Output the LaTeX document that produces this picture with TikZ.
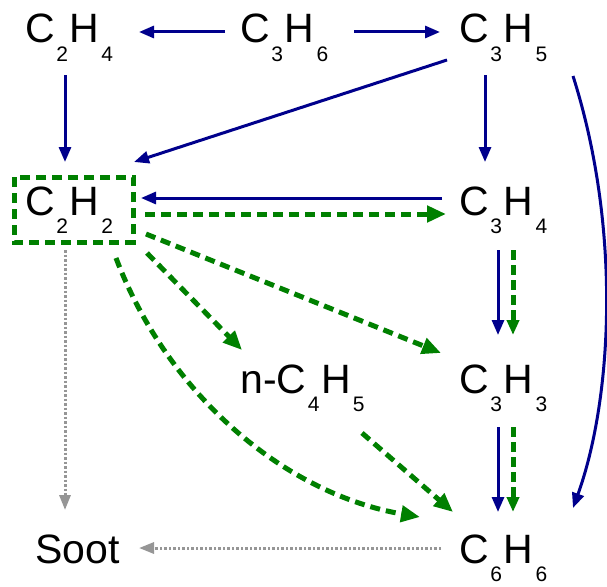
\documentclass[tikz,border=0pt]{standalone}
\usepackage{fontspec}
\setmainfont{Liberation Sans}
\usetikzlibrary{arrows.meta,calc}
\definecolor{myblue}{RGB}{0,0,140}
\definecolor{mygreen}{RGB}{0,128,0}
\definecolor{mygray}{RGB}{150,150,150}
\newcommand{\subf}[1]{\raisebox{-18pt}{\fontsize{21pt}{21pt}\selectfont #1}}
\newcommand{\mol}[2]{C\kern1.6pt\subf{#1}\kern1.8pt H\kern2pt\subf{#2}}
\begin{document}
\begin{tikzpicture}[x=1pt,y=-1pt,
  lbl/.style={anchor=base west, inner sep=0pt, font=\fontsize{41pt}{41pt}\selectfont},
  bluearr/.style={draw=myblue, line width=3pt, -{Triangle[length=15pt,width=12pt]}},
  greenarr/.style={draw=mygreen, line width=5pt, dash pattern=on 10pt off 6pt, -{Triangle[length=19pt,width=16pt]}},
  greenvert/.style={draw=mygreen, line width=5pt, dash pattern=on 10pt off 5pt, -{Triangle[length=15pt,width=12pt]}},
  grayarr/.style={draw=mygray, line width=3pt, dash pattern=on 2.5pt off 2pt, -{Triangle[length=15pt,width=11pt]}},
  greenbox/.style={draw=mygreen, line width=5pt, dash pattern=on 10pt off 6pt}]
\useasboundingbox[fill=white] (0,0) rectangle (607,586);

\node[lbl] (c2h4) at (25,43) {\mol{2}{4}};
\node[lbl] (c3h6) at (240,43) {\mol{3}{6}};
\node[lbl] (c3h5) at (459,43) {\mol{3}{5}};
\node[lbl] (c2h2) at (25,215) {\mol{2}{2}};
\node[lbl] (c3h4) at (459,215) {\mol{3}{4}};
\node[lbl] (nc4h5) at (240,393) {n-\mol{4}{5}};
\node[lbl] (c3h3) at (459,393) {\mol{3}{3}};
\node[lbl] (soot) at (35,563) {Soot};
\node[lbl] (c6h6) at (459,563) {\mol{6}{6}};

% box around C2H2
\draw[greenbox] ($(c2h2.base west)+(-11,-38)$) rectangle ($(c2h2.base west)+(108,27)$);

% blue arrows
\draw[bluearr] ($(c3h6.base west)+(-15,-11)$) -- ($(c2h4.base west)+(114,-11)$);
\draw[bluearr] ($(c3h6.base west)+(114,-11)$) -- ($(c3h5.base west)+(-19,-11)$);
\draw[bluearr] ($(c2h4.base west)+(40,32)$) -- ($(c2h2.base west)+(40,-53)$);
\draw[bluearr] ($(c3h5.base west)+(-12,17)$) -- ($(c2h2.base west)+(109,-53)$);
\draw[bluearr] ($(c3h5.base west)+(26,32)$) -- ($(c3h4.base west)+(26,-53)$);
\draw[bluearr] ($(c3h5.base west)+(114,33)$) .. controls +(49,154) and +(39,-108) .. ($(c6h6.base west)+(114,-55)$);
\draw[bluearr] ($(c3h4.base west)+(-17,-17)$) -- ($(c2h2.base west)+(116,-17)$);
\draw[bluearr] ($(c3h4.base west)+(39,35)$) -- ($(c3h3.base west)+(39,-58)$);
\draw[bluearr] ($(c3h3.base west)+(39,34)$) -- ($(c6h6.base west)+(39,-51)$);

% green dashed arrows
\draw[greenarr] ($(c2h2.base west)+(120,-1)$) -- ($(c3h4.base west)+(-13,-1)$);
\draw[greenarr] ($(c2h2.base west)+(122,38)$) -- ($(nc4h5.base west)+(2,-43)$);
\draw[greenarr] ($(c2h2.base west)+(121,19)$) -- ($(c3h3.base west)+(-18,-40)$);
\draw[greenarr] ($(c2h2.base west)+(91,43)$) .. controls +(54,142) and +(-130,-22) .. ($(c6h6.base west)+(-39,-46)$);
\draw[greenarr] ($(nc4h5.base west)+(122,40)$) -- ($(c6h6.base west)+(-6,-51)$);
\draw[greenvert] ($(c3h4.base west)+(54,35)$) -- ($(c3h3.base west)+(54,-58)$);
\draw[greenvert] ($(c3h3.base west)+(54,34)$) -- ($(c6h6.base west)+(54,-51)$);

% gray dotted arrows
\draw[grayarr] ($(c2h2.base west)+(40,35)$) -- ($(soot.base west)+(30,-53)$);
\draw[grayarr] ($(c6h6.base west)+(-18,-15)$) -- ($(soot.base west)+(104,-15)$);
\end{tikzpicture}
\end{document}
